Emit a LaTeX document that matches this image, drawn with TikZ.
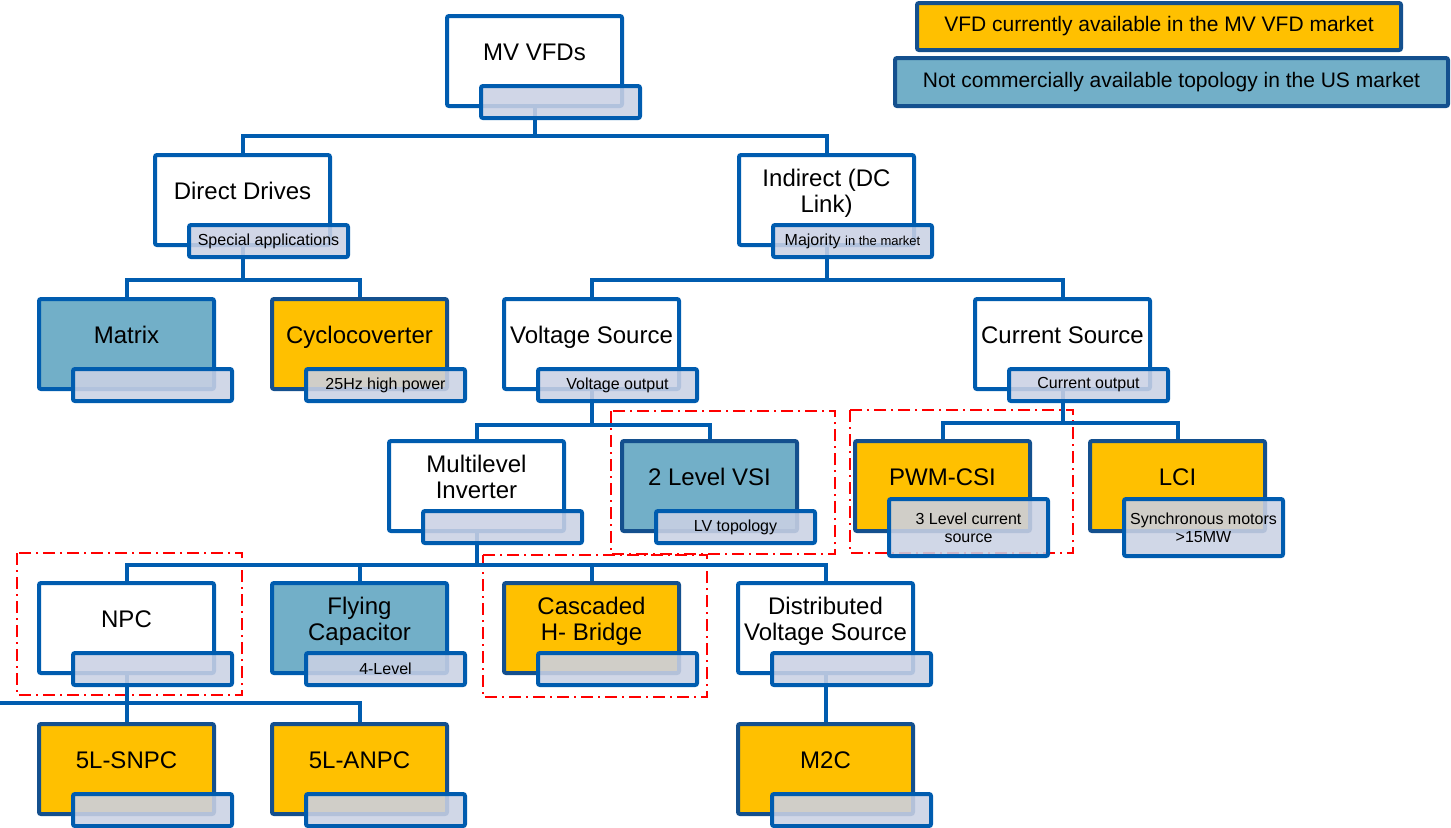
\documentclass[tikz,border=0pt]{standalone}
\usepackage{fontspec}
\setmainfont{Liberation Sans}
\usetikzlibrary{positioning,backgrounds}

\definecolor{vfdblue}{RGB}{0,92,175}
\definecolor{vfdnavy}{RGB}{20,80,142}
\definecolor{vfdyellow}{RGB}{255,192,0}
\definecolor{vfdcyan}{RGB}{114,175,200}
\definecolor{vfdsub}{RGB}{202,209,228}

\tikzset{
  box/.style={draw=vfdblue,line width=2pt,rounded corners=1pt,fill=white,minimum width=87.5pt,minimum height=45pt,anchor=north west,inner sep=0pt},
  avail/.style={box,fill=vfdyellow,draw=vfdnavy},
  notus/.style={box,fill=vfdcyan},
  sub/.style={draw=vfdblue,line width=2pt,rounded corners=1pt,fill=vfdsub,fill opacity=.88,text opacity=1,minimum width=79.5pt,minimum height=16pt,inner xsep=1pt,inner ysep=0pt,anchor=south east,font=\fontsize{8}{9}\selectfont,align=center},
  subtall/.style={sub,minimum height=28.5pt},
  lbl/.style={font=\fontsize{12}{13}\selectfont,inner sep=0pt,text depth=0pt},
  lbltwo/.style={font=\fontsize{12}{13}\selectfont,inner sep=0pt,align=center},
  link/.style={draw=vfdblue,line width=2pt},
  hilite/.style={draw=red,line width=1.2pt,dash pattern=on 6pt off 2.5pt on 1pt off 2.5pt},
  legend/.style={draw=vfdnavy,line width=2pt,rounded corners=1pt,font=\fontsize{10.5}{12}\selectfont}
}

\begin{document}
\begin{tikzpicture}[x=0.5pt,y=-0.5pt]
  \useasboundingbox (0,0) rectangle (1451,827);

  \node[legend,fill=vfdyellow,minimum width=242pt,minimum height=23.5pt] at (1159,26.5) (keyA) {VFD currently available in the MV VFD market};
  \node[legend,fill=vfdcyan,minimum width=276.5pt,minimum height=24pt] at (1171.5,82) (keyB) {Not commercially available topology in the US market};

  \node[box] at (445,14) (mv) {};
  \node[box] at (153,153) (dd) {};
  \node[box] at (737,153) (ind) {};
  \node[notus] at (37,297) (mat) {};
  \node[avail] at (270,297) (cyc) {};
  \node[box] at (502,297) (vs) {};
  \node[box] at (973,297) (cs) {};
  \node[box] at (387,439) (mli) {};
  \node[notus,draw=vfdnavy] at (620,439) (vsi) {};
  \node[avail] at (853,439) (pwm) {};
  \node[avail] at (1088,439) (lci) {};
  \node[box] at (37,581) (npc) {};
  \node[notus] at (270,581) (fc) {};
  \node[avail] at (502,581) (chb) {};
  \node[box] at (736,581) (dvs) {};
  \node[avail] at (37,722) (snpc) {};
  \node[avail] at (270,722) (anpc) {};
  \node[avail] at (736,722) (mmc) {};

  \node[lbl] at ([yshift=-19pt]mv.north) (mvT) {MV VFDs};
  \node[lbl] at ([yshift=-19pt]dd.north) (ddT) {Direct Drives};
  \node[lbltwo] at ([yshift=-20pt]ind.north) (indT) {Indirect (DC\\Link)};
  \node[lbl] at ([yshift=-19pt]mat.north) (matT) {Matrix};
  \node[lbl] at ([yshift=-19pt]cyc.north) (cycT) {Cyclocoverter};
  \node[lbl] at ([yshift=-19pt]vs.north) (vsT) {Voltage Source};
  \node[lbl] at ([yshift=-19pt]cs.north) (csT) {Current Source};
  \node[lbltwo] at ([yshift=-19pt]mli.north) (mliT) {Multilevel\\Inverter};
  \node[lbl] at ([yshift=-19pt]vsi.north) (vsiT) {2 Level VSI};
  \node[lbl] at ([yshift=-19pt]pwm.north) (pwmT) {PWM-CSI};
  \node[lbl] at ([yshift=-19pt]lci.north) (lciT) {LCI};
  \node[lbl] at ([yshift=-19pt]npc.north) (npcT) {NPC};
  \node[lbltwo] at ([yshift=-20pt]fc.north) (fcT) {Flying\\Capacitor};
  \node[lbltwo] at ([yshift=-20pt]chb.north) (chbT) {Cascaded\\H- Bridge};
  \node[lbltwo] at ([yshift=-20pt]dvs.north) (dvsT) {Distributed\\Voltage Source};
  \node[lbl] at ([yshift=-19pt]snpc.north) (snpcT) {5L-SNPC};
  \node[lbl] at ([yshift=-19pt]anpc.north) (anpcT) {5L-ANPC};
  \node[lbl] at ([yshift=-19pt]mmc.north) (mmcT) {M2C};

  \node[sub] at ([shift={(18,12)}]mv.south east) (mvS) {};
  \node[sub] at ([shift={(18,12)}]dd.south east) (ddS) {Special applications};
  \node[sub] at ([shift={(18,12)}]ind.south east) (indS) {Majority {\fontsize{6.5}{8}\selectfont in the market}};
  \node[sub] at ([shift={(18,12)}]mat.south east) (matS) {};
  \node[sub] at ([shift={(18,12)}]cyc.south east) (cycS) {25Hz high power};
  \node[sub] at ([shift={(18,12)}]vs.south east) (vsS) {Voltage output};
  \node[sub] at ([shift={(18,12)}]cs.south east) (csS) {Current output};
  \node[sub] at ([shift={(18,12)}]mli.south east) (mliS) {};
  \node[sub] at ([shift={(18,12)}]vsi.south east) (vsiS) {LV topology};
  \node[subtall] at ([shift={(18,25)}]pwm.south east) (pwmS) {3 Level current\\source};
  \node[subtall] at ([shift={(18,25)}]lci.south east) (lciS) {Synchronous motors\\>15MW};
  \node[sub] at ([shift={(18,12)}]npc.south east) (npcS) {};
  \node[sub] at ([shift={(18,12)}]fc.south east) (fcS) {4-Level};
  \node[sub] at ([shift={(18,12)}]chb.south east) (chbS) {};
  \node[sub] at ([shift={(18,12)}]dvs.south east) (dvsS) {};
  \node[sub] at ([shift={(18,12)}]snpc.south east) (snpcS) {};
  \node[sub] at ([shift={(18,12)}]anpc.south east) (anpcS) {};
  \node[sub] at ([shift={(18,12)}]mmc.south east) (mmcS) {};

  \begin{scope}[on background layer]
    % red frames
    \draw[hilite] (611,411) rectangle (835,554);
    \draw[hilite] (850,410) rectangle (1073,553);
    \draw[hilite] (17,553) rectangle (242,695);
    \draw[hilite] (483,555) rectangle (707,697);

    \draw[link] (mv.south) -- ++(0,28) coordinate (b1);
    \draw[link] (dd.north) |- (b1) -| (ind.north);
    \draw[link] (dd.south) -- ++(0,33) coordinate (b2);
    \draw[link] (mat.north) |- (b2) -| (cyc.north);
    \draw[link] (ind.south) -- ++(0,33) coordinate (b3);
    \draw[link] (vs.north) |- (b3) -| (cs.north);
    \draw[link] (vs.south) -- ++(0,34) coordinate (b4);
    \draw[link] (mli.north) |- (b4) -| (vsi.north);
    \draw[link] (cs.south) -- ++(0,32) coordinate (b5);
    \draw[link] (pwm.north) |- (b5) -| (lci.north);
    \draw[link] (mli.south) -- ++(0,32) coordinate (b6);
    \draw[link] (npc.north) |- (b6) -| (dvs.north);
    \draw[link] (fc.north) -- (fc.north |- b6);
    \draw[link] (chb.north) -- (chb.north |- b6);
    \coordinate (edge) at (0,703);
    \draw[link] (npc.south) -- (snpc.north);
    \draw[link] (edge) -| (anpc.north);
    \draw[link] (dvs.south) -- (mmc.north);
  \end{scope}
\end{tikzpicture}
\end{document}
